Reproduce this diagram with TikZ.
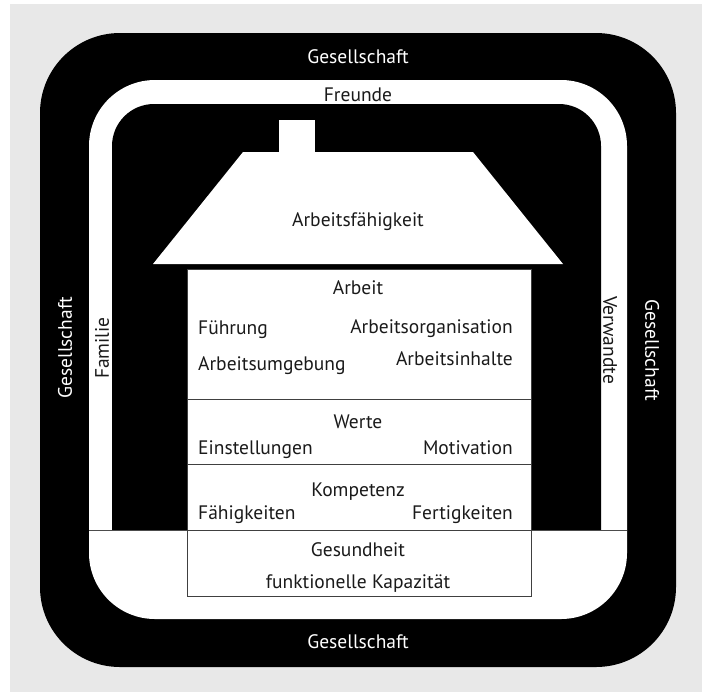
\documentclass[tikz,border=0pt]{standalone}
\usepackage{fontspec}
\setmainfont{PT Sans}
\definecolor{bggray}{HTML}{E8E8E8}
\definecolor{ink}{HTML}{1A1A1A}
\begin{document}
\begin{tikzpicture}[x=1pt,y=-1pt,
  wtext/.style={text=white,inner sep=0pt,font=\fontsize{19.5}{22}\selectfont,text height=13.5pt,text depth=0pt},
  btext/.style={text=ink,inner sep=0pt,font=\fontsize{19.5}{22}\selectfont,text height=13.5pt,text depth=0pt},
  part/.style={fill=white,draw=black!75,line width=1pt}]
\useasboundingbox (0,0) rectangle (706,694);
\fill[bggray] (10,4) rectangle (702,692);
% rings
\fill[black,rounded corners=80pt] (40,33) rectangle (676,667);
\fill[white,rounded corners=66pt] (89,80) rectangle (627,619);
\fill[black] (112,530) [rounded corners=42pt] -- (112,104) -- (601,104) -- (601,300) [sharp corners] -- (601,530) -- cycle;
\draw[black!70,line width=1pt] (89,530) -- (627,530);
% house
\fill[white] (279,120) rectangle (315,153);
\fill[white] (153,264) -- (243,152) -- (473,152) -- (563,264) -- cycle;
\draw[part] (187,269) rectangle (531,596);
\foreach \y in {399,464,530} {
\draw[black!75,line width=1pt] (187,\y) -- (531,\y);
}
% labels
\node[wtext] (gtop) at (358,57) {Gesellschaft};
\node[wtext] (gbot) at (358,642) {Gesellschaft};
\node[wtext,rotate=90] (gleft) at (65,348) {Gesellschaft};
\node[wtext,rotate=-90] (gright) at (652,350) {Gesellschaft};
\node[btext] (freunde) at (358,95) {Freunde};
\node[btext,rotate=90] (familie) at (102,348) {Familie};
\node[btext,rotate=-90] (verwandte) at (610,340) {Verwandte};
\node[btext] (af) at (358,220) {Arbeitsfähigkeit};
\node[btext] (arbeit) at (358,288) {Arbeit};
\node[btext,anchor=west] (fuehrung) at (198,328) {Führung};
\node[btext,anchor=east] (org) at (513,327) {Arbeitsorganisation};
\node[btext,anchor=west] (umgebung) at (198,364) {Arbeitsumgebung};
\node[btext,anchor=east] (inhalte) at (513,359) {Arbeitsinhalte};
\node[btext] (werte) at (358,422) {Werte};
\node[btext,anchor=west] (einst) at (198,448) {Einstellungen};
\node[btext,anchor=east] (motiv) at (513,448) {Motivation};
\node[btext] (kompetenz) at (358,490) {Kompetenz};
\node[btext,anchor=west] (faeh) at (198,513) {Fähigkeiten};
\node[btext,anchor=east] (fert) at (513,513) {Fertigkeiten};
\node[btext] (gesund) at (358,550) {Gesundheit};
\node[btext] (kapaz) at (358,582) {funktionelle Kapazität};
\end{tikzpicture}
\end{document}
